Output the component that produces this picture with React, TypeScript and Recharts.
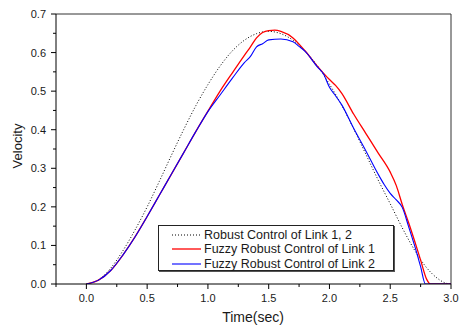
import React from 'react';
import { LineChart, Line, XAxis, YAxis, ReferenceLine, Legend, Label } from 'recharts';

const robustTime = [0, 0.1, 0.2, 0.3, 0.4, 0.5, 0.6, 0.7, 0.8, 0.9, 1.0, 1.1, 1.2, 1.3, 1.4, 1.5, 1.6, 1.7, 1.8, 1.9, 2.0, 2.1, 2.2, 2.3, 2.4, 2.5, 2.6, 2.7, 2.8, 2.9, 2.95, 3.0];
const robustVel = [0, 0.011, 0.041, 0.086, 0.14, 0.2, 0.266, 0.334, 0.4, 0.462, 0.517, 0.565, 0.604, 0.632, 0.649, 0.655, 0.649, 0.632, 0.604, 0.566, 0.518, 0.464, 0.402, 0.336, 0.27, 0.208, 0.145, 0.088, 0.042, 0.012, 0.003, 0];

const link1Time = [0, 0.1, 0.2, 0.3, 0.4, 0.5, 0.6, 0.7, 0.8, 0.9, 1.0, 1.1, 1.2, 1.3, 1.35, 1.4, 1.45, 1.5, 1.55, 1.6, 1.7, 1.75, 1.8, 1.9, 2.0, 2.05, 2.1, 2.2, 2.3, 2.4, 2.5, 2.55, 2.6, 2.65, 2.7, 2.75, 2.8, 2.83, 2.9, 3.0];
const link1Vel = [0, 0.01, 0.035, 0.075, 0.122, 0.175, 0.23, 0.285, 0.34, 0.395, 0.448, 0.5, 0.547, 0.593, 0.615, 0.638, 0.652, 0.657, 0.658, 0.655, 0.638, 0.622, 0.604, 0.565, 0.53, 0.515, 0.495, 0.44, 0.39, 0.34, 0.29, 0.255, 0.205, 0.16, 0.112, 0.062, 0.012, 0, 0, 0];

const link2Time = [0, 0.1, 0.2, 0.3, 0.4, 0.5, 0.6, 0.7, 0.8, 0.9, 1.0, 1.1, 1.2, 1.3, 1.35, 1.4, 1.45, 1.5, 1.6, 1.7, 1.75, 1.8, 1.9, 1.95, 2.0, 2.05, 2.1, 2.2, 2.3, 2.4, 2.45, 2.5, 2.55, 2.6, 2.65, 2.7, 2.75, 2.79, 2.9, 3.0];
const link2Vel = [0, 0.01, 0.035, 0.075, 0.122, 0.175, 0.23, 0.285, 0.34, 0.395, 0.447, 0.49, 0.533, 0.574, 0.59, 0.615, 0.623, 0.633, 0.635, 0.628, 0.616, 0.603, 0.563, 0.545, 0.51, 0.488, 0.465, 0.403, 0.345, 0.285, 0.258, 0.235, 0.218, 0.198, 0.15, 0.1, 0.045, 0, 0, 0];

const xTicks = [-0.25, 0, 0.25, 0.5, 0.75, 1.0, 1.25, 1.5, 1.75, 2.0, 2.25, 2.5, 2.75, 3.0];
const yTicks = [0, 0.05, 0.1, 0.15, 0.2, 0.25, 0.3, 0.35, 0.4, 0.45, 0.5, 0.55, 0.6, 0.65, 0.7];

const seriesNames = ['Robust Control of Link 1, 2', 'Fuzzy Robust Control of Link 1', 'Fuzzy Robust Control of Link 2'];
const xTitle = 'Time(sec)';
const yTitle = 'Velocity';

const robustData = robustTime.map((t, i) => ({ t, v: robustVel[i] }));
const link1Data = link1Time.map((t, i) => ({ t, v: link1Vel[i] }));
const link2Data = link2Time.map((t, i) => ({ t, v: link2Vel[i] }));

const FONT = '"Liberation Sans", Arial, Helvetica, sans-serif';
const TEXT = '#1a1a1a';

const XTick = (props: any) => {
  const { x, y, payload } = props;
  const v = payload.value as number;
  const major = Math.abs(v * 2 - Math.round(v * 2)) < 1e-6;
  return (
    <g>
      <line x1={x} x2={x} y1={y} y2={y + (major ? 5 : 3)} stroke="#000" strokeWidth={1} />
      {major && (
        <text x={x} y={y + 18} textAnchor="middle" fontFamily={FONT} fontSize={11} fill={TEXT}>
          {v.toFixed(1)}
        </text>
      )}
    </g>
  );
};

const YTick = (props: any) => {
  const { x, y, payload } = props;
  const v = payload.value as number;
  const major = Math.round(v * 100) % 10 === 0;
  return (
    <g>
      <line x1={x - (major ? 5 : 3)} x2={x} y1={y} y2={y} stroke="#000" strokeWidth={1} />
      {major && (
        <text x={x - 10} y={y + 4} textAnchor="end" fontFamily={FONT} fontSize={11} fill={TEXT}>
          {v.toFixed(1)}
        </text>
      )}
    </g>
  );
};

const LegendBox = () => {
  const rows = [
    { name: seriesNames[0], color: '#000', dash: '1 2', w: 1 },
    { name: seriesNames[1], color: '#ff0000', dash: undefined, w: 1.3 },
    { name: seriesNames[2], color: '#0000ff', dash: undefined, w: 1.1 },
  ];
  return (
    <div
      style={{
        width: 236,
        height: 46,
        border: '1px solid #222',
        boxShadow: '1px 1px 0 #555',
        background: '#fff',
        boxSizing: 'border-box',
        paddingTop: 1.5,
        fontFamily: FONT,
        fontSize: 12.5,
        color: TEXT,
        textAlign: 'left',
      }}
    >
      {rows.map((r) => (
        <div key={r.name} style={{ height: 14.5, display: 'flex', alignItems: 'center', whiteSpace: 'nowrap' }}>
          <svg width={45} height={14} style={{ flex: '0 0 auto' }}>
            <line x1={13} x2={42} y1={7} y2={7} stroke={r.color} strokeWidth={r.w} strokeDasharray={r.dash} />
          </svg>
          <span style={{ lineHeight: '14px' }}>{r.name}</span>
        </div>
      ))}
    </div>
  );
};

export default function App() {
  return (
    <div style={{ position: 'absolute', left: 0, top: 0, width: 461, height: 326, background: '#fff' }}>
      <LineChart width={461} height={326} margin={{ top: 14, right: 10, left: 0, bottom: 0 }}>
        <XAxis
          type="number"
          dataKey="t"
          domain={[-0.25, 3]}
          ticks={xTicks}
          interval={0}
          tickSize={0}
          tickMargin={0}
          tickLine={false}
          tick={<XTick />}
          height={42}
          allowDataOverflow
          axisLine={{ stroke: '#000', strokeWidth: 1 }}
        >
          <Label
            content={() => (
              <text x={253} y={322} textAnchor="middle" fontFamily={FONT} fontSize={14} fill={TEXT}>
                {xTitle}
              </text>
            )}
          />
        </XAxis>
        <YAxis
          type="number"
          domain={[0, 0.7]}
          ticks={yTicks}
          interval={0}
          tickSize={0}
          tickMargin={0}
          tickLine={false}
          tick={<YTick />}
          width={56}
          allowDataOverflow
          axisLine={{ stroke: '#000', strokeWidth: 1 }}
        >
          <Label
            content={() => (
              <text
                x={22}
                y={146}
                textAnchor="middle"
                transform="rotate(-90 22 146)"
                fontFamily={FONT}
                fontSize={13}
                fill={TEXT}
              >
                {yTitle}
              </text>
            )}
          />
        </YAxis>
        <ReferenceLine y={0.7} stroke="#333" strokeWidth={1} />
        <ReferenceLine x={3} stroke="#333" strokeWidth={1} />
        <Line
          data={robustData}
          dataKey="v"
          type="monotone"
          stroke="#000"
          strokeWidth={1}
          strokeDasharray="1 2"
          dot={false}
          activeDot={false}
          isAnimationActive={false}
          name={seriesNames[0]}
        />
        <Line
          data={link1Data}
          dataKey="v"
          type="monotone"
          stroke="#ff0000"
          strokeWidth={1.3}
          dot={false}
          activeDot={false}
          isAnimationActive={false}
          name={seriesNames[1]}
        />
        <Line
          data={link2Data}
          dataKey="v"
          type="monotone"
          stroke="#0000ff"
          strokeWidth={1.1}
          dot={false}
          activeDot={false}
          isAnimationActive={false}
          name={seriesNames[2]}
        />
        <Legend
          layout="horizontal"
          align="center"
          verticalAlign="middle"
          content={() => <LegendBox />}
          wrapperStyle={{ position: 'absolute', left: 158, top: 225, width: 237, height: 47, bottom: 'auto', right: 'auto', margin: 0 }}
        />
      </LineChart>
    </div>
  );
}
